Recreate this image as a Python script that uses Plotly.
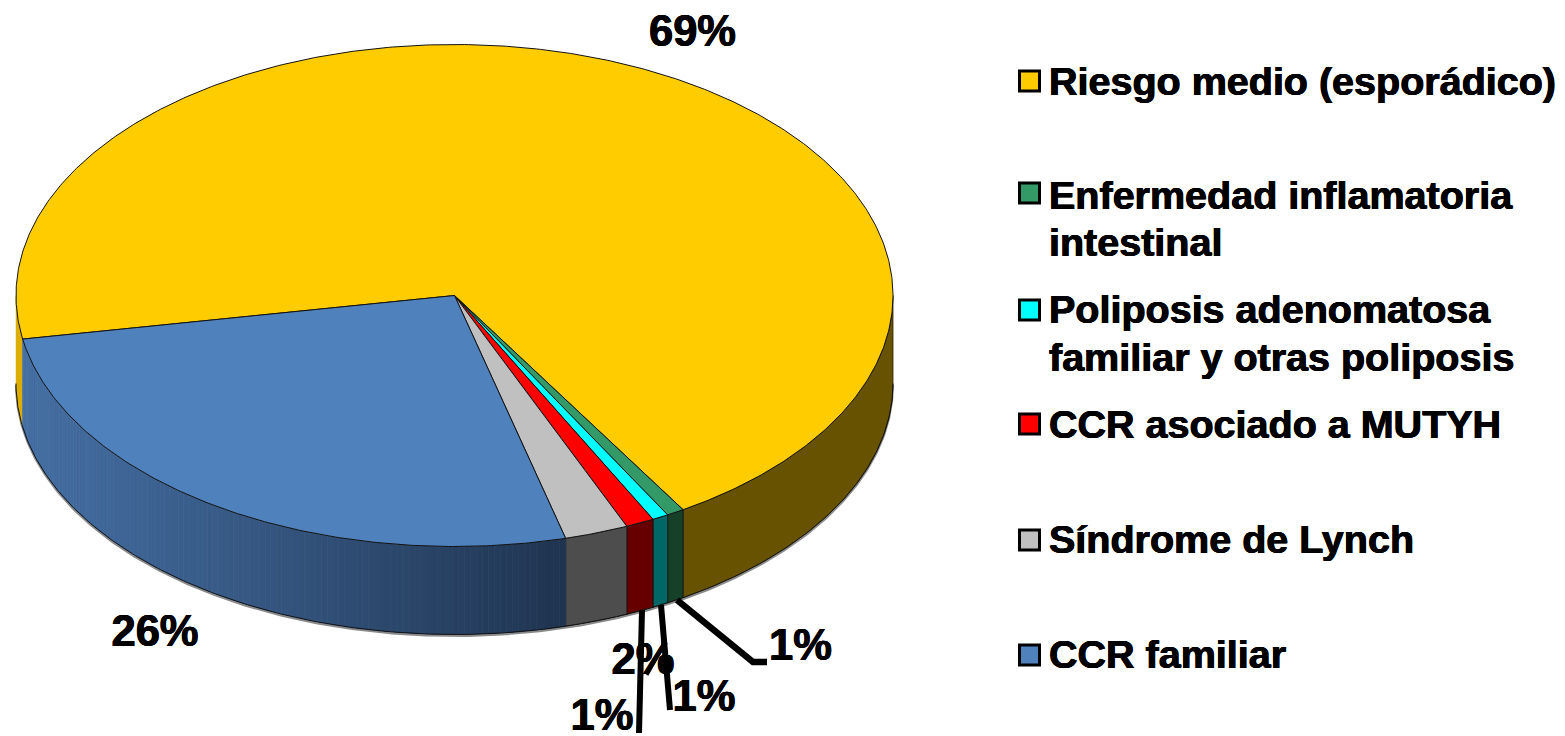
import numpy as np
import plotly.graph_objects as go

# ---- data (legend order, drawn clockwise from the yellow slice) ----
categories = ["Riesgo medio (esporádico)", "Enfermedad inflamatoria intestinal",
              "Poliposis adenomatosa familiar y otras poliposis",
              "CCR asociado a MUTYH", "Síndrome de Lynch", "CCR familiar"]
values = [69.05, 0.65, 0.6, 1.05, 2.35, 26.3]
value_labels = ["69%", "1%", "1%", "1%", "2%", "26%"]
top_colors = ["#FFCC00", "#339966", "#00FFFF", "#FF0000", "#C0C0C0", "#4F81BD"]
wall_colors = ["#665200", "#174029", "#006666", "#660000", "#4D4D4D", None]
legend_lines = [["Riesgo medio (esporádico)"], ["Enfermedad inflamatoria", "intestinal"],
                ["Poliposis adenomatosa", "familiar y otras poliposis"],
                ["CCR asociado a MUTYH"], ["Síndrome de Lynch"], ["CCR familiar"]]
legend_line_y = [[85], [199, 246], [313, 361], [428], [543], [658]]
legend_marker_y = [81, 193, 310, 424, 540, 655]
label_x = [692.5, 800.5, 704, 602, 643, 155]
label_y = [35, 649, 700, 719, 663, 635]
leader_x = [[677, 753, 767], [661, 670], [642, 639], [647, 663, 662]]
leader_y = [[600, 662, 662], [605, 710], [610, 733], [675, 647, 612]]
leader_w = [6.5, 6, 6, 3]
dot_x, dot_y = [666], [667]

# ---- pie geometry ----
CX, CY, RX, RY, DEPTH = 454.5, 295.5, 438.5, 251, 88
START = 170.0
HEAVY = "0.5px 0 0 #000, -0.5px 0 0 #000, 0 0.4px 0 #000"


def ex(t):
    return CX + RX * np.cos(np.radians(t))


def ey(t):
    return CY + RY * np.sin(np.radians(t))


def arc(a, b):
    n = max(2, int(abs(b - a) * 2) + 2)
    return np.linspace(a, b, n)


def poly(x, y, fill, line="#000000", width=1.0):
    return go.Scatter(x=list(x), y=list(y), mode="lines", fill="toself", fillcolor=fill,
                      line=dict(color=line, width=width), hoverinfo="skip", showlegend=False)


def wall(a, b, fill, line, width):
    t = arc(a, b)
    xs = np.r_[ex(t), ex(t)[::-1], ex(t[0])]
    ys = np.r_[ey(t), ey(t)[::-1] + DEPTH, ey(t[0])]
    return poly(xs, ys, fill, line, width)


def lerp(c0, c1, f):
    return "rgb(%d,%d,%d)" % tuple(round(c0[i] + (c1[i] - c0[i]) * f) for i in range(3))


angles = np.r_[START, START + np.cumsum(values) * 3.6]
fig = go.Figure()

# lower rim shadow
tt = arc(0, 180)
fig.add_trace(go.Scatter(x=ex(tt), y=ey(tt) + DEPTH + 1.5, mode="lines",
                         line=dict(color="#8A8A8A", width=2), hoverinfo="skip", showlegend=False))

# walls
a0, a1 = angles[0], angles[1]
fig.add_trace(wall(a0, 180, "#DDAE00", "#DDAE00", 0.5))
fig.add_trace(wall(360, a1, wall_colors[0], "#2b2300", 0.8))
for i in range(1, 5):
    fig.add_trace(wall(angles[i], angles[i + 1], wall_colors[i], "#111111", 0.8))
blue_a, blue_b = angles[5], angles[6]
STRIPS = 120
edges = np.linspace(blue_a, blue_b, STRIPS + 1)
for j in range(STRIPS):
    f = (ex(edges[j]) - ex(blue_b)) / (ex(blue_a) - ex(blue_b))
    c = lerp((0x44, 0x6E, 0xA2), (0x1F, 0x34, 0x50), f ** 1.1)
    fig.add_trace(wall(edges[j], edges[j + 1], c, c, 0.8))
fig.add_trace(go.Scatter(x=ex(tt), y=ey(tt) + DEPTH, mode="lines",
                         line=dict(color="#111111", width=1), hoverinfo="skip", showlegend=False))

# top faces
for i in range(6):
    t = arc(angles[i], angles[i + 1])
    xs = np.r_[CX, ex(t), CX]
    ys = np.r_[CY, ey(t), CY]
    fig.add_trace(poly(xs, ys, top_colors[i], "#111111", 1.0))

# value labels below the leaders
fig.add_trace(go.Scatter(x=label_x, y=label_y, text=value_labels, mode="text", textposition="middle center",
                         textfont=dict(family="Liberation Sans", size=43.5, color="#000000", weight="bold",
                                       shadow=HEAVY),
                         hoverinfo="skip", showlegend=False))
for lx, ly, w in zip(leader_x, leader_y, leader_w):
    fig.add_trace(go.Scatter(x=lx, y=ly, mode="lines", line=dict(color="#000000", width=w),
                             hoverinfo="skip", showlegend=False))
fig.add_trace(go.Scatter(x=dot_x, y=dot_y, mode="markers", marker=dict(color="#000000", size=11),
                         hoverinfo="skip", showlegend=False))

# legend
fig.add_trace(go.Scatter(x=[1029.5] * 6, y=legend_marker_y, mode="markers",
                         marker=dict(symbol="square", size=20, color=top_colors,
                                     line=dict(color="#000000", width=3)),
                         hoverinfo="skip", showlegend=False))
lx, ly, lt = [], [], []
for lines, ys in zip(legend_lines, legend_line_y):
    for s, y in zip(lines, ys):
        lx.append(1049)
        ly.append(y)
        lt.append(s)
fig.add_trace(go.Scatter(x=lx, y=ly, text=lt, mode="text", textposition="middle right",
                         textfont=dict(family="Liberation Sans", size=39.5, color="#000000", weight="bold",
                                       shadow=HEAVY),
                         hoverinfo="skip", showlegend=False))

fig.update_layout(width=1565, height=736, margin=dict(l=0, r=0, t=0, b=0),
                  paper_bgcolor="#FFFFFF", plot_bgcolor="#FFFFFF",
                  xaxis=dict(range=[0, 1565], visible=False, fixedrange=True),
                  yaxis=dict(range=[736, 0], visible=False, fixedrange=True))
fig.write_html("out.html", config={"displayModeBar": False},
               post_script="document.body.style.margin='0';document.body.style.overflow='hidden';")
